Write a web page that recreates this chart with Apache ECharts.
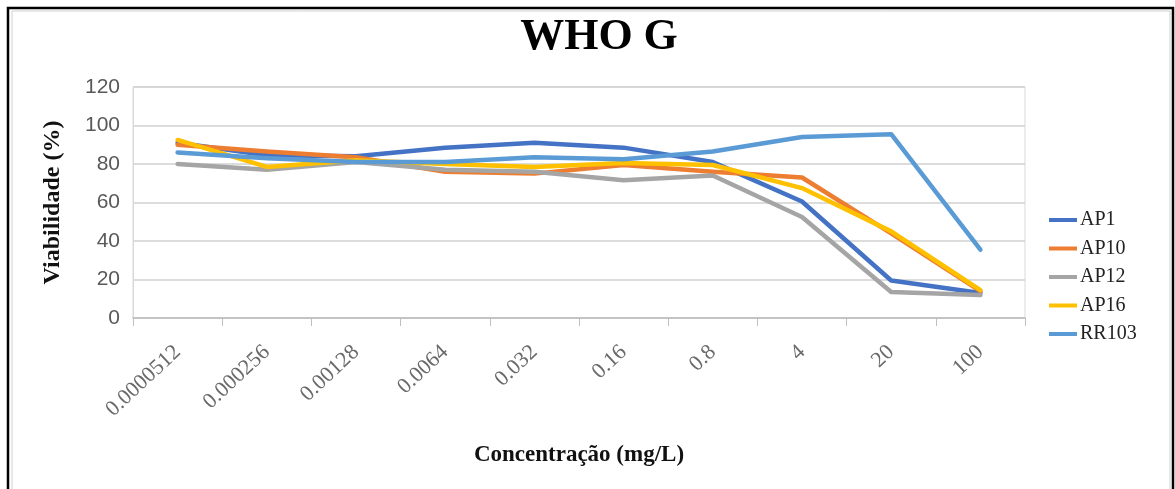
<!DOCTYPE html>
<html>
<head>
<meta charset="utf-8">
<script src="https://cdn.jsdelivr.net/npm/echarts@6/dist/echarts.min.js"></script>
<style>
html,body{margin:0;padding:0;background:#fff;}
#chart{width:1175px;height:489px;}
</style>
</head>
<body>
<div id="chart"></div>
<script>
const categories = ["0.0000512","0.000256","0.00128","0.0064","0.032","0.16","0.8","4","20","100"];
const AP1   = [91, 84.5, 84, 88.5, 91, 88.5, 81, 60.5, 19.5, 13];
const AP10  = [90, 86.5, 83.5, 76, 75, 79.5, 76, 73, 44, 14];
const AP12  = [80, 77, 81, 77, 76, 71.5, 74, 52.5, 13.5, 12];
const AP16  = [92.5, 78.5, 82, 80, 78.5, 80.5, 79.5, 67.5, 45, 14.5];
const RR103 = [86, 83, 81, 81, 83.5, 82.5, 86.5, 94, 95.5, 35.5];
const seriesNames = ["AP1","AP10","AP12","AP16","RR103"];
const seriesData = [AP1, AP10, AP12, AP16, RR103];
const colors = ["#4472C4","#ED7D31","#A5A5A5","#FFC000","#5B9BD5"];
const yTicks = [0, 20, 40, 60, 80, 100, 120];

const chart = echarts.init(document.getElementById('chart'), null, {renderer:'canvas'});
const serif = '"Liberation Serif","Times New Roman",serif';
chart.setOption({
  animation:false,
  color: colors,
  title:{
    text:'WHO G', left:594, top:11, textAlign:'center',
    textStyle:{fontFamily:serif, fontWeight:'bold', fontSize:44, color:'#000'}
  },
  legend:{
    orient:'vertical', left:1049, top:210, padding:0,
    icon:'rect', itemWidth:28, itemHeight:4, itemGap:8.5,
    textStyle:{fontFamily:serif, fontSize:20, lineHeight:20, color:'#222', padding:[0,0,0,-2]},
    data: seriesNames
  },
  grid:{left:133, right:150, top:87, bottom:171, show:true, borderColor:'#d9d9d9', borderWidth:1},
  xAxis:{
    type:'category', data:categories, boundaryGap:true,
    name:'Concentração (mg/L)', nameLocation:'middle', nameGap:126,
    nameTextStyle:{fontFamily:serif, fontWeight:'bold', fontSize:23, color:'#111'},
    axisLine:{lineStyle:{color:'#bfbfbf', width:1.5}},
    axisTick:{show:true, length:8, lineStyle:{color:'#bfbfbf'}},
    axisLabel:{rotate:43, margin:31, fontFamily:serif, fontSize:22, color:'#6a6a6a', interval:0}
  },
  yAxis:{
    type:'value', min:yTicks[0], max:yTicks[yTicks.length-1], interval:20,
    name:'Viabilidade (%)', nameLocation:'middle', nameGap:68,
    nameTextStyle:{fontFamily:serif, fontWeight:'bold', fontSize:24, color:'#111'},
    axisLine:{show:true, lineStyle:{color:'#d9d9d9'}},
    axisTick:{show:false},
    axisLabel:{margin:13, fontFamily:'"Liberation Sans",Arial,sans-serif', fontSize:21, color:'#595959'},
    splitLine:{lineStyle:{color:'#d0d0d0', width:1.5}}
  },
  series: seriesNames.map((n,i)=>({
    name:n, type:'line', data:seriesData[i], showSymbol:false, symbol:'none',
    lineStyle:{width:4.5, color:colors[i], cap:'round', join:'round'},
    itemStyle:{color:colors[i]}
  })),
  graphic:[
    {type:'rect', shape:{x:12, y:11, width:1158, height:490}, style:{fill:'none', stroke:'#d0d0d0', lineWidth:1}, silent:true},
    {type:'rect', shape:{x:8, y:8, width:1165, height:495}, style:{fill:'none', stroke:'#000', lineWidth:2.5}, silent:true}
  ]
});
</script>
</body>
</html>
